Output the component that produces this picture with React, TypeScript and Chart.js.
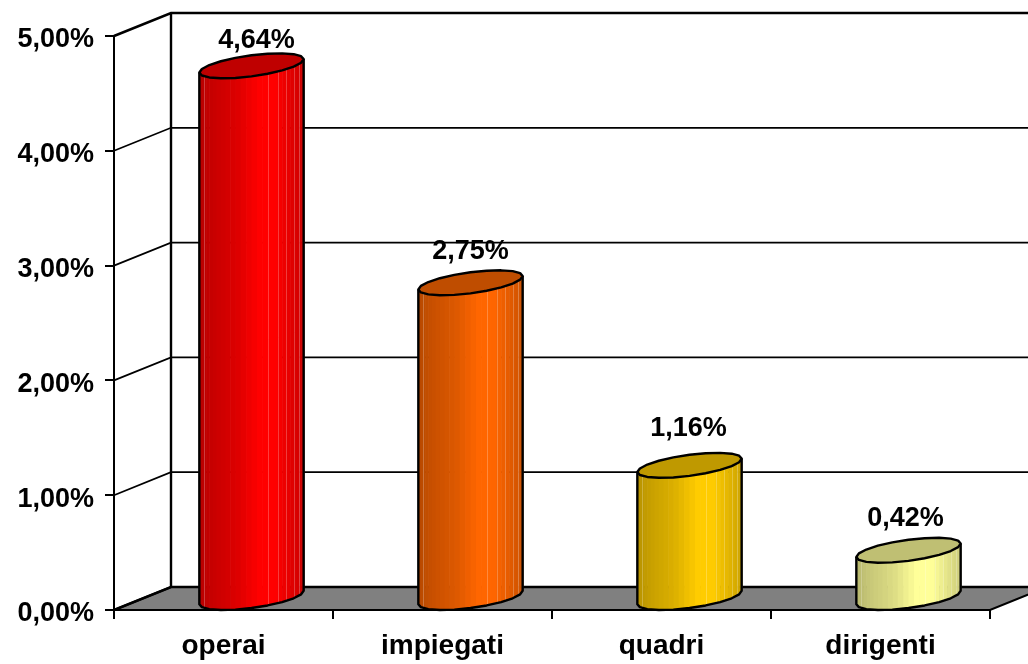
import React, { useEffect, useRef } from "react";
import { Chart, registerables } from "chart.js";

Chart.register(...registerables);

const categories = ["operai", "impiegati", "quadri", "dirigenti"];
const values = [4.64, 2.75, 1.16, 0.42];
const valueLabels = ["4,64%", "2,75%", "1,16%", "0,42%"];
const baseColors = [
  [255, 0, 0],
  [255, 102, 0],
  [255, 204, 0],
  [255, 255, 153],
];
const labelNudgeX = [5, 0, -1, -3];
const labelNudgeY = [7, 1, -4, 1];

const DEPTH_X = 57;
const DEPTH_Y = -23;
const FONT = '"Liberation Sans", Arial, sans-serif';

function shadeAt(f: number) {
  const stops = [
    [0, 0.72],
    [0.12, 0.78],
    [0.35, 0.86],
    [0.58, 1],
    [0.72, 1],
    [1, 0.8],
  ];
  for (let i = 1; i < stops.length; i++) {
    if (f <= stops[i][0]) {
      const k = (f - stops[i - 1][0]) / (stops[i][0] - stops[i - 1][0]);
      return stops[i - 1][1] + k * (stops[i][1] - stops[i - 1][1]);
    }
  }
  return 0.8;
}

function rgb(c: number[], m: number) {
  return `rgb(${Math.round(c[0] * m)},${Math.round(c[1] * m)},${Math.round(c[2] * m)})`;
}

const scenePlugin = {
  id: "scene3d",
  beforeDatasetsDraw(chart: any) {
    const { ctx } = chart;
    const x = chart.scales.x;
    const y = chart.scales.y;
    const left = x.left;
    const right = x.right;
    const y0 = y.getPixelForValue(0);
    ctx.save();
    ctx.strokeStyle = "#000";
    // floor
    ctx.beginPath();
    ctx.moveTo(left, y0);
    ctx.lineTo(left + DEPTH_X, y0 + DEPTH_Y);
    ctx.lineTo(right + DEPTH_X, y0 + DEPTH_Y);
    ctx.lineTo(right, y0);
    ctx.closePath();
    ctx.fillStyle = "#808080";
    ctx.fill();
    ctx.lineWidth = 2;
    ctx.stroke();
    // walls and gridlines
    y.ticks.forEach((t: any) => {
      const py = y.getPixelForValue(t.value);
      ctx.lineWidth = t.value === 5 || t.value === 0 ? 2.6 : 1.7;
      ctx.beginPath();
      ctx.moveTo(left, py);
      ctx.lineTo(left + DEPTH_X, py + DEPTH_Y);
      ctx.lineTo(right + DEPTH_X, py + DEPTH_Y);
      ctx.stroke();
    });
    ctx.lineWidth = 2.4;
    ctx.beginPath();
    ctx.moveTo(left + DEPTH_X, y.getPixelForValue(5) + DEPTH_Y);
    ctx.lineTo(left + DEPTH_X, y0 + DEPTH_Y);
    ctx.stroke();
    ctx.restore();
  },
  afterDatasetsDraw(chart: any) {
    const { ctx } = chart;
    const meta = chart.getDatasetMeta(0);
    meta.data.forEach((bar: any, i: number) => {
      const c = baseColors[i];
      const half = bar.width / 2;
      const a = (half * 44) / 52;
      const dx = (half * 28) / 52;
      const dy = -12.5;
      const cx = bar.x + 28;
      const topY = bar.y + DEPTH_Y / 2;
      const botY = bar.base + DEPTH_Y / 2;
      const t0 = Math.atan2(dx, a);
      const px = (t: number) => cx + a * Math.cos(t) + dx * Math.sin(t);
      const py = (t: number, cy: number) => cy + dy * Math.sin(t);
      const N = 30;
      const tAt = (k: number) => t0 + Math.PI + (Math.PI * k) / N;
      ctx.save();
      // front strips
      for (let k = 0; k < N; k++) {
        const t1 = tAt(k);
        const t2 = tAt(k + 1);
        const f = ((px(t1) + px(t2)) / 2 - (cx - half)) / bar.width;
        ctx.fillStyle = rgb(c, shadeAt(f));
        ctx.beginPath();
        ctx.moveTo(px(t1), py(t1, topY));
        ctx.lineTo(px(t2) + 0.6, py(t2, topY));
        ctx.lineTo(px(t2) + 0.6, py(t2, botY));
        ctx.lineTo(px(t1), py(t1, botY));
        ctx.closePath();
        ctx.fill();
      }
      // seams
      ctx.lineWidth = 1;
      ctx.strokeStyle = "rgba(255,255,255,0.24)";
      for (let k = 2; k < N; k += 2) {
        const t = tAt(k);
        const f = (px(t) - (cx - half)) / bar.width;
        if (f > 0.56 || k === 4) {
          ctx.beginPath();
          ctx.moveTo(Math.round(px(t)) + 0.5, py(t, topY));
          ctx.lineTo(Math.round(px(t)) + 0.5, py(t, botY));
          ctx.stroke();
        }
      }
      // silhouette
      ctx.strokeStyle = "#000";
      ctx.lineWidth = 2.4;
      ctx.lineJoin = "round";
      ctx.beginPath();
      ctx.moveTo(px(tAt(0)), py(tAt(0), topY));
      for (let k = 0; k <= N; k += 3) ctx.lineTo(px(tAt(k)), py(tAt(k), botY));
      ctx.lineTo(px(tAt(N)), py(tAt(N), topY));
      ctx.stroke();
      // top cap
      ctx.beginPath();
      for (let k = 0; k < 2 * N; k += 3) {
        const t = tAt(k);
        if (k === 0) ctx.moveTo(px(t), py(t, topY));
        else ctx.lineTo(px(t), py(t, topY));
      }
      ctx.closePath();
      ctx.fillStyle = rgb(c, 0.75);
      ctx.fill();
      ctx.stroke();
      // value label
      ctx.fillStyle = "#000";
      ctx.font = `bold 27px ${FONT}`;
      ctx.textAlign = "center";
      ctx.textBaseline = "alphabetic";
      ctx.fillText(valueLabels[i], cx + labelNudgeX[i], topY - 25 + labelNudgeY[i]);
      ctx.restore();
    });
  },
};

export default function App() {
  const ref = useRef<HTMLCanvasElement | null>(null);
  useEffect(() => {
    const chart = new Chart(ref.current as HTMLCanvasElement, {
      type: "bar",
      data: {
        labels: categories,
        datasets: [
          {
            data: values,
            backgroundColor: "rgba(0,0,0,0)",
            borderWidth: 0,
            categoryPercentage: 1,
            barPercentage: 0.475,
          },
        ],
      },
      plugins: [scenePlugin],
      options: {
        responsive: false,
        animation: false,
        layout: { padding: { top: 36, right: 38, left: 0, bottom: 0 } },
        plugins: { legend: { display: false }, tooltip: { enabled: false } },
        scales: {
          x: {
            grid: {
              drawOnChartArea: false,
              drawTicks: true,
              tickLength: 9,
              color: "#000",
              lineWidth: 2,
            },
            border: { display: true, color: "#000", width: 2 },
            ticks: {
              color: "#000",
              font: { family: FONT, size: 28, weight: "bold" },
              padding: 10,
              maxRotation: 0,
            },
            afterFit(s: any) {
              s.height = 54;
            },
          },
          y: {
            min: 0,
            max: 5,
            ticks: {
              stepSize: 1,
              color: "#000",
              font: { family: FONT, size: 27, weight: "bold", lineHeight: "8px" },
              padding: 11,
              callback: (v: any) => ["", Number(v).toFixed(2).replace(".", ",") + "%"],
            },
            grid: {
              drawOnChartArea: false,
              drawTicks: true,
              tickLength: 9,
              color: "#000",
              lineWidth: 2,
            },
            border: { display: true, color: "#000", width: 2 },
            afterFit(s: any) {
              s.width = 114;
            },
          },
        },
      },
    } as any);
    return () => chart.destroy();
  }, []);
  return (
    <div style={{ position: "absolute", left: 0, top: 0, width: 1028, height: 664, background: "#fff" }}>
      <canvas ref={ref} width={1028} height={664} style={{ display: "block" }} />
    </div>
  );
}
